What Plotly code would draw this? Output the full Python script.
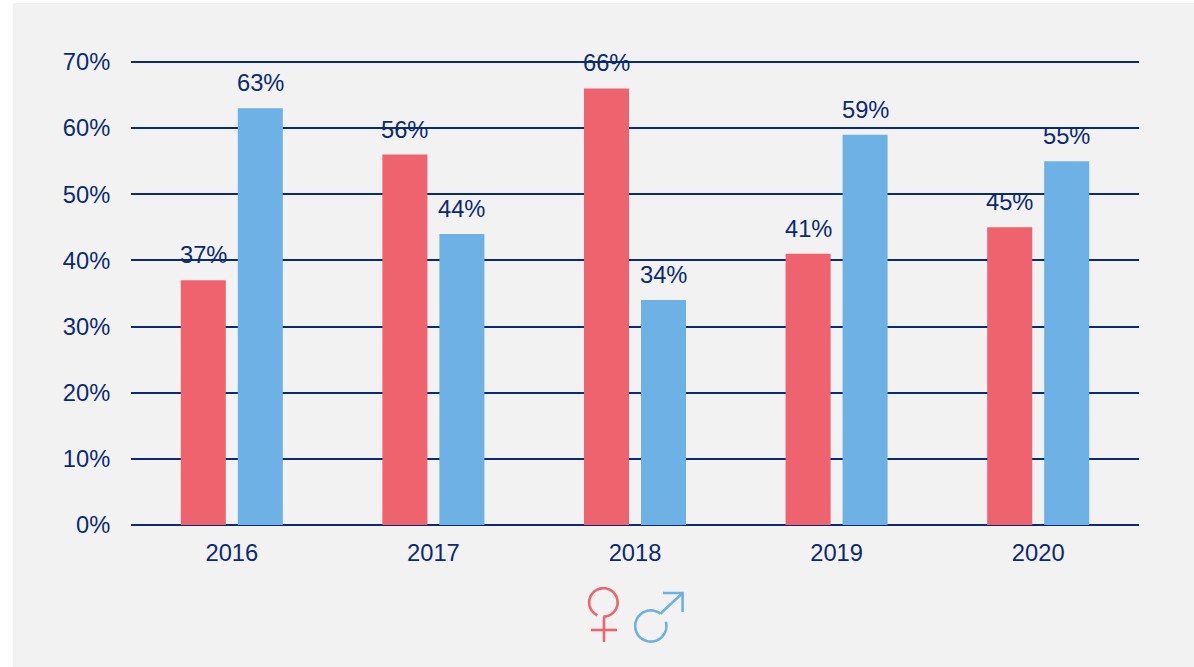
import math
import plotly.graph_objects as go

years = ["2016", "2017", "2018", "2019", "2020"]
women = [37, 56, 66, 41, 45]
men = [63, 44, 34, 59, 55]
y_ticks = [0, 10, 20, 30, 40, 50, 60, 70]

RED = "#EF636E"
BLUE = "#6EB1E4"
NAVY = "#0B2A72"
PANEL = "#F2F2F2"
FONT = "Liberation Sans, Arial, sans-serif"
W, H = 1194, 667
L, R, T, B = 131, 1139, 62, 525


def px(x):
    return (x - L) / (R - L)


def py(y):
    return (B - y) / (B - T)


def circle_arc(cx, cy, r, a0, a1, n=64):
    pts = []
    for i in range(n + 1):
        a = math.radians(a0 + (a1 - a0) * i / n)
        pts.append((px(cx + r * math.cos(a)), py(cy + r * math.sin(a))))
    return "M " + " L ".join(f"{a:.5f},{b:.5f}" for a, b in pts)


def seg(*points):
    return "M " + " L ".join(f"{px(a):.5f},{py(b):.5f}" for a, b in points)


fig = go.Figure()
fig.add_bar(x=years, y=women, marker_color=RED, marker_line_width=0, name="Women")
fig.add_bar(x=years, y=men, marker_color=BLUE, marker_line_width=0, name="Men")

annotations = []
for vals, shift in ((women, -28.5), (men, 28.5)):
    for i, v in enumerate(vals):
        annotations.append(dict(
            x=i, y=v, xref="x", yref="y", text=f"{v}%", showarrow=False,
            xshift=shift, yshift=10, yanchor="bottom", xanchor="center",
            font=dict(family=FONT, size=23.7, color=NAVY),
        ))

shapes = [
    dict(type="rect", xref="paper", yref="paper", x0=px(13), x1=px(1194),
         y0=py(3), y1=py(667), fillcolor=PANEL, line_width=0, layer="below"),
    dict(type="line", xref="paper", yref="paper", x0=0, x1=1, y0=1, y1=1,
         line=dict(color=NAVY, width=2), layer="below"),
]
for path, col in (
    (circle_arc(603.4, 602.4, 14.2, 115, 450), RED),
    (seg((604, 616.5), (604, 642)), RED),
    (seg((591, 630), (617, 630)), RED),
    (circle_arc(650.8, 626, 15.6, -16, 308), BLUE),
    (seg((660.3, 613.7), (682.6, 593)), BLUE),
    (seg((663, 593), (682.6, 593), (682.6, 612)), BLUE),
):
    shapes.append(dict(type="path", xref="paper", yref="paper", path=path,
                       line=dict(color=col, width=2.6), layer="above"))

fig.update_layout(
    width=W, height=H, autosize=False, showlegend=False,
    margin=dict(l=L, r=W - R, t=T, b=H - B, pad=0),
    paper_bgcolor="#FFFFFF", plot_bgcolor="rgba(0,0,0,0)",
    barmode="group", bargap=0.4345, bargroupgap=0.21,
    font=dict(family=FONT, color=NAVY, size=22),
    annotations=annotations, shapes=shapes,
    xaxis=dict(type="category", range=[-0.5, 4.5], showgrid=False, showline=False, zeroline=False,
               ticks="outside", ticklen=7, tickcolor="rgba(0,0,0,0)",
               tickfont=dict(family=FONT, size=23.7, color=NAVY)),
    yaxis=dict(range=[0, 70], tickvals=y_ticks, ticktext=[f"{t}%" for t in y_ticks],
               showgrid=True, gridcolor=NAVY, gridwidth=2,
               zeroline=True, zerolinecolor=NAVY, zerolinewidth=2, showline=False,
               ticks="outside", ticklen=15, tickcolor="rgba(0,0,0,0)",
               tickfont=dict(family=FONT, size=23.7, color=NAVY)),
)

fig.write_html("out.html", config={"displayModeBar": False},
               post_script="document.body.style.margin='0';document.body.style.overflow='hidden';")
